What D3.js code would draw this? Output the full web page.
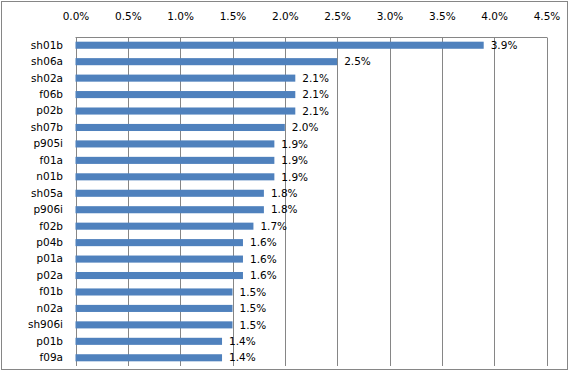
<!DOCTYPE html>
<html><head><meta charset="utf-8">
<script src="https://cdn.jsdelivr.net/npm/d3@7"></script>
<style>body{margin:0;background:#fff}svg{display:block}</style>
</head><body>
<svg id="c" width="570" height="372"></svg>
<script>
const categories = ["sh01b","sh06a","sh02a","f06b","p02b","sh07b","p905i","f01a","n01b","sh05a","p906i","f02b","p04b","p01a","p02a","f01b","n02a","sh906i","p01b","f09a"];
const values = [3.9,2.5,2.1,2.1,2.1,2.0,1.9,1.9,1.9,1.8,1.8,1.7,1.6,1.6,1.6,1.5,1.5,1.5,1.4,1.4];
const labels = ["3.9%","2.5%","2.1%","2.1%","2.1%","2.0%","1.9%","1.9%","1.9%","1.8%","1.8%","1.7%","1.6%","1.6%","1.6%","1.5%","1.5%","1.5%","1.4%","1.4%"];
const ticks = [0,0.5,1,1.5,2,2.5,3,3.5,4,4.5];

const svg = d3.select("#c");
const font = "DejaVu Sans, Verdana, sans-serif";
const L = 75.5, R = 546.5, T = 37.5, B = 366;

svg.append("rect").attr("x",1.5).attr("y",1.5).attr("width",566).attr("height",368)
  .attr("fill","#fff").attr("stroke","#868686").attr("stroke-width",1);

const x = d3.scaleLinear().domain([0,4.5]).range([L,R]);
const y = d3.scaleBand().domain(categories).range([37,366]).paddingInner(0.57).paddingOuter(0.285);

// gridlines
svg.append("g").selectAll("line").data(ticks).join("line")
  .attr("x1",d=>Math.round(x(d))+0.5).attr("x2",d=>Math.round(x(d))+0.5)
  .attr("y1",T).attr("y2",B).attr("stroke","#868686").attr("stroke-width",1);
svg.append("line").attr("x1",L).attr("x2",R+0.5).attr("y1",T).attr("y2",T)
  .attr("stroke","#868686").attr("stroke-width",1);

// top axis labels
const ax = d3.axisTop(x).tickValues(ticks).tickFormat(d=>d.toFixed(1)+"%").tickSize(0).tickPadding(0);
const ag = svg.append("g").attr("transform","translate(0,20)").call(ax);
ag.select(".domain").remove();
ag.selectAll("text").attr("font-family",font).attr("font-size","10.5px").attr("fill","#000").attr("dy",0);

// category labels
const ly = d3.axisLeft(y).tickSize(0).tickPadding(0);
const lg = svg.append("g").attr("transform","translate(63,0)").call(ly);
lg.select(".domain").remove();
lg.selectAll("text").attr("font-family",font).attr("font-size","10.5px").attr("fill","#000");

// bars
svg.append("g").selectAll("rect").data(values).join("rect")
  .attr("x",x(0)).attr("y",(d,i)=>y(categories[i]))
  .attr("width",d=>x(d)-x(0)).attr("height",y.bandwidth())
  .attr("fill","#4F81BD");

// value labels
svg.append("g").selectAll("text").data(values).join("text")
  .attr("x",d=>x(d)+7).attr("y",(d,i)=>y(categories[i])+y.bandwidth()/2)
  .attr("dy","0.35em").attr("font-family",font).attr("font-size","10.5px").attr("fill","#000")
  .text((d,i)=>labels[i]);
</script>
</body></html>
